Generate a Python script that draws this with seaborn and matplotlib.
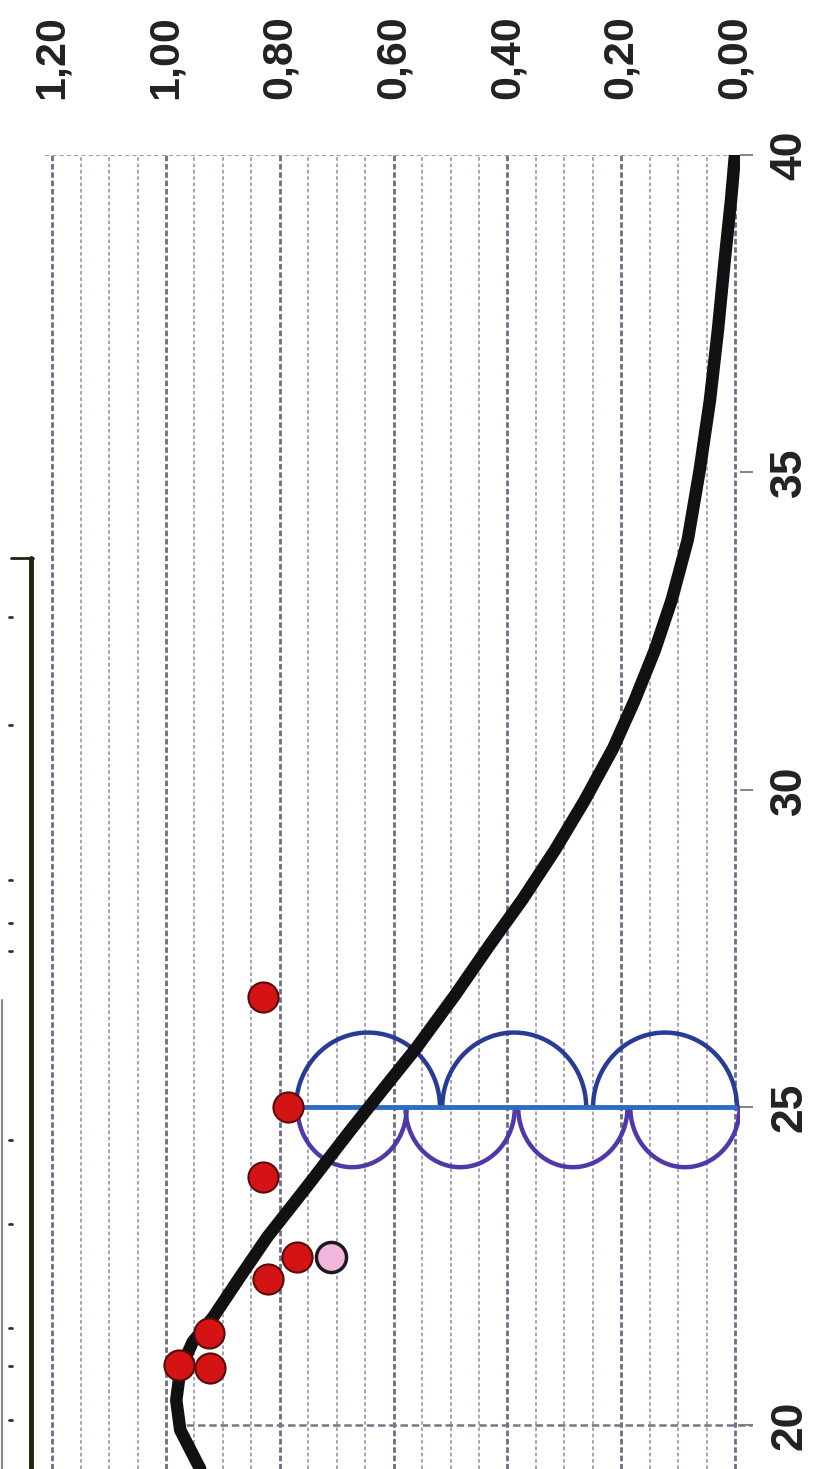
import numpy as np
import matplotlib
matplotlib.use("Agg")
import matplotlib.pyplot as plt
import seaborn as sns
from matplotlib.lines import Line2D

sns.set_style("white")
plt.rcParams['font.family'] = ['Liberation Sans', 'DejaVu Sans']

# fitted curve
curve_x = [19.31, 19.92, 20.39, 20.87, 21.31, 21.70, 22.33, 22.96, 23.70, 24.65, 25.28,
           25.95, 26.77, 27.56, 28.27, 29.06, 29.84, 30.66, 31.42, 32.2, 33.0, 33.94,
           35.04, 36.14, 37.24, 38.35, 39.29, 40.0]
curve_v = [0.94, 0.975, 0.982, 0.975, 0.953, 0.917, 0.87, 0.822, 0.757, 0.675, 0.619,
           0.559, 0.492, 0.431, 0.374, 0.316, 0.264, 0.214, 0.176, 0.141, 0.111, 0.083,
           0.062, 0.044, 0.030, 0.018, 0.007, 0.0]

# observed points
dot_x = [26.74, 25.0, 23.9, 22.65, 22.3, 21.45, 20.95, 20.9]
dot_v = [0.83, 0.785, 0.83, 0.77, 0.82, 0.925, 0.978, 0.922]
pink_x = [22.65]
pink_v = [0.71]

# blue loops drawn along x = 25
loop_x = 25.0
upper_centres = [0.645, 0.388, 0.123]
lower_centres = [0.673, 0.483, 0.285, 0.088]

x_ticks = [20, 25, 30, 35, 40]
v_ticks = [0.0, 0.2, 0.4, 0.6, 0.8, 1.0, 1.2]

fig = plt.figure(figsize=(8.23, 14.69), dpi=100)
ax = fig.add_axes([45 / 823, 0, 695 / 823, 1 - 155 / 1469])
ax.set_xlim(1.2127, -0.0088)
ax.set_ylim(19.307, 40.0)
for s in ax.spines.values():
    s.set_visible(False)

# grid: vertical lines every 0.05, darker every 0.2
ax.set_xticks(v_ticks)
ax.set_xticks(np.arange(0, 1.21, 0.05), minor=True)
ax.grid(which='minor', axis='x', color='#9d9db0', lw=1.3, ls=(0, (2, 1.5)))
ax.grid(which='major', axis='x', color='#6d6d88', lw=2.0, ls=(0, (2, 1)))
ax.axhline(40, color='#a0a0a8', lw=1.5, ls=(0, (2, 1.5)))
ax.plot([0.985, -0.03], [20, 20], color='#777788', lw=1.8, ls=(0, (3, 1.5)), clip_on=False)

ax.xaxis.tick_top()
ax.set_xticklabels([f"{v:.2f}".replace('.', ',') for v in v_ticks],
                   rotation=90, fontsize=31, fontweight='bold', color='#222222')
ax.tick_params(axis='x', which='both', length=0, pad=40)

ax.yaxis.tick_right()
ax.set_yticks(x_ticks)
ax.set_yticklabels([str(t) for t in x_ticks], rotation=90, va='center',
                   fontsize=32, fontweight='bold', color='#222222')
ax.tick_params(axis='y', length=9, width=1.5, color='#888888', pad=12)

# blue loops: wide arches above the line, narrower bowls below it
t = np.linspace(0, np.pi, 80)
for c in upper_centres:
    ax.plot(c + 0.1265 * np.cos(t), loop_x + 1.18 * np.sin(t),
            color='#283c96', lw=3.2)
for c in lower_centres:
    ax.plot(c + 0.096 * np.cos(t), loop_x - 0.94 * np.sin(t),
            color='#5038a8', lw=3.2)
ax.plot([0.785, 0.0], [loop_x, loop_x], color='#2e6cc0', lw=3.5)

sns.lineplot(x=curve_v, y=curve_x, sort=False, estimator=None, color='#111111',
             lw=9, ax=ax, zorder=5)

sns.scatterplot(x=dot_v, y=dot_x, s=470, color='#d41414', edgecolor='#5a0a0a',
                linewidth=1.5, ax=ax, zorder=6)
sns.scatterplot(x=pink_v, y=pink_x, s=470, color='#f2b6dc', edgecolor='#1a1a1a',
                linewidth=2.5, ax=ax, zorder=6)

# remains of a neighbouring frame on the left edge of the scan
fig.add_artist(Line2D([31 / 823, 31 / 823], [1 - 558 / 1469, 0],
                      color='#1e2410', lw=3.5))
fig.add_artist(Line2D([11 / 823, 33 / 823], [1 - 558 / 1469, 1 - 558 / 1469],
                      color='#1e2410', lw=2))
fig.add_artist(Line2D([1.5 / 823, 1.5 / 823], [1 - 1000 / 1469, 0],
                      color='#888888', lw=1.5))
for yy in [617, 725, 880, 923, 951, 1140, 1224, 1328, 1366, 1420]:
    fig.add_artist(Line2D([9 / 823, 12 / 823], [1 - yy / 1469, 1 - yy / 1469],
                          color='#333333', lw=2))

fig.savefig('out.png', dpi=100)
